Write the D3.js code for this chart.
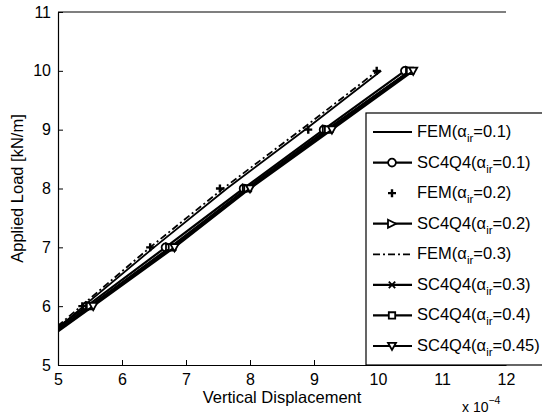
<!DOCTYPE html>
<html lang="en">
<head>
  <meta charset="UTF-8">
  <title>Applied Load vs Vertical Displacement</title>
  <style>
    body { margin: 0; background: #fff; }
    svg text { font-family: "Liberation Sans", Arial, sans-serif; fill: #000; }
  </style>
</head>
<body>
  <svg></svg>
<script src="https://cdn.jsdelivr.net/npm/d3@7/dist/d3.min.js"></script>
<script>
  var width = 542
  var height = 415

  // loads (kN/m) and displacements (x 1e-4)
  var loads = [5, 6, 7, 8, 9, 10]
  var fem01 = [4.32, 5.40, 6.50, 7.64, 8.86, 10.05]
  var fem02 = [4.30, 5.38, 6.44, 7.53, 8.91, 9.98]
  var fem03 = [4.28, 5.36, 6.44, 7.58, 8.80, 9.99]
  var sc01 = [4.18, 5.45, 6.68, 7.90, 9.15, 10.42]
  var sc02 = [4.22, 5.50, 6.75, 7.95, 9.20, 10.50]
  var sc03 = [4.25, 5.52, 6.80, 7.98, 9.25, 10.52]
  var sc04 = [4.23, 5.50, 6.78, 7.96, 9.22, 10.50]
  var sc045 = [4.27, 5.55, 6.82, 8.00, 9.28, 10.55]

  var xTicks = [5, 6, 7, 8, 9, 10, 11, 12]
  var yTicks = [5, 6, 7, 8, 9, 10, 11]

  var series = [
    {name: 'FEM', alpha: '0.1', x: fem01, line: 'solid', marker: null, w: 1.8},
    {name: 'SC4Q4', alpha: '0.1', x: sc01, line: 'solid', marker: 'circle', w: 2.2},
    {name: 'FEM', alpha: '0.2', x: fem02, line: null, marker: 'plus', w: 1.8},
    {name: 'SC4Q4', alpha: '0.2', x: sc02, line: 'solid', marker: 'tri-right', w: 2.2},
    {name: 'FEM', alpha: '0.3', x: fem03, line: 'dashdot', marker: null, w: 1.8},
    {name: 'SC4Q4', alpha: '0.3', x: sc03, line: 'solid', marker: 'cross', w: 2.2},
    {name: 'SC4Q4', alpha: '0.4', x: sc04, line: 'solid', marker: 'square', w: 2.2},
    {name: 'SC4Q4', alpha: '0.45', x: sc045, line: 'solid', marker: 'tri-down', w: 2.2}
  ]

  var m = {left: 58, top: 12, right: 506, bottom: 365}

  var x = d3.scaleLinear().domain([5, 12]).range([m.left, m.right])
  var y = d3.scaleLinear().domain([5, 11]).range([m.bottom, m.top])

  var svg = d3.select('svg')
    .attr('width', width)
    .attr('height', height)

  svg.append('defs').append('clipPath').attr('id', 'clip')
    .append('rect')
    .attr('x', m.left).attr('y', m.top)
    .attr('width', m.right - m.left).attr('height', m.bottom - m.top)

  function markerPath(type, s) {
    var h = s / 2
    if (type === 'circle') return d3.symbol(d3.symbolCircle, s * s * 0.75)()
    if (type === 'plus') return 'M' + -h + ',0H' + h + 'M0,' + -h + 'V' + h
    if (type === 'cross') return 'M' + -h * 0.8 + ',' + -h * 0.8 + 'L' + h * 0.8 + ',' + h * 0.8 +
      'M' + -h * 0.8 + ',' + h * 0.8 + 'L' + h * 0.8 + ',' + -h * 0.8
    if (type === 'square') return 'M' + -h * 0.8 + ',' + -h * 0.8 + 'h' + s * 0.8 + 'v' + s * 0.8 + 'h' + -s * 0.8 + 'Z'
    if (type === 'tri-right') return 'M' + -h + ',' + -h + 'L' + h + ',0L' + -h + ',' + h + 'Z'
    if (type === 'tri-down') return 'M' + -h + ',' + -h * 0.8 + 'L' + h + ',' + -h * 0.8 + 'L0,' + h + 'Z'
    return ''
  }

  function dashFor(line) {
    return line === 'dashdot' ? '7,3,2,3' : null
  }

  var plot = svg.append('g').attr('clip-path', 'url(#clip)')

  var lineGen = d3.line()
    .x(d => x(d[0]))
    .y(d => y(d[1]))

  series.forEach(s => {
    var pts = s.x.map((v, i) => [v, loads[i]])
    if (s.line) {
      plot.append('path')
        .attr('d', lineGen(pts))
        .attr('fill', 'none')
        .attr('stroke', '#000')
        .attr('stroke-width', s.w)
        .attr('stroke-dasharray', dashFor(s.line))
    }
    if (s.marker) {
      plot.selectAll(null)
        .data(pts)
        .enter()
        .append('path')
        .attr('transform', d => 'translate(' + x(d[0]) + ',' + y(d[1]) + ')')
        .attr('d', markerPath(s.marker, 8))
        .attr('fill', s.marker === 'plus' || s.marker === 'cross' ? 'none' : '#fff')
        .attr('stroke', '#000')
        .attr('stroke-width', s.marker === 'plus' ? 2.4 : 1.8)
    }
  })

  // axes
  var xAxis = d3.axisBottom(x).tickValues(xTicks).tickFormat(d3.format('d'))
    .tickSizeInner(-5).tickSizeOuter(0).tickPadding(9)
  var yAxis = d3.axisLeft(y).tickValues(yTicks).tickFormat(d3.format('d'))
    .tickSizeInner(-5).tickSizeOuter(0).tickPadding(7)

  var gx = svg.append('g').attr('transform', 'translate(0,' + m.bottom + ')').call(xAxis)
  var gy = svg.append('g').attr('transform', 'translate(' + m.left + ',0)').call(yAxis)

  ;[gx, gy].forEach(g => {
    g.select('.domain').attr('stroke', '#000').attr('stroke-width', 1.2)
    g.selectAll('.tick line').attr('stroke', '#000')
    g.selectAll('.tick text').attr('font-size', 16).attr('fill', '#000')
      .style('font-family', '"Liberation Sans", Arial, sans-serif')
  })

  // top border
  svg.append('line')
    .attr('x1', m.left).attr('x2', m.right)
    .attr('y1', m.top).attr('y2', m.top)
    .attr('stroke', '#000').attr('stroke-width', 1.2)

  svg.append('text')
    .attr('x', (m.left + m.right) / 2).attr('y', 403)
    .attr('text-anchor', 'middle').attr('font-size', 16.5)
    .text('Vertical Displacement')

  var exp = svg.append('text').attr('x', 462).attr('y', 412).attr('font-size', 14)
  exp.append('tspan').text('x 10')
  exp.append('tspan').attr('dy', -8).attr('font-size', 10.5).text('\u22124')

  svg.append('text')
    .attr('transform', 'translate(23,' + (m.top + m.bottom) / 2 + ') rotate(-90)')
    .attr('text-anchor', 'middle').attr('font-size', 16.5)
    .text('Applied Load [kN/m]')

  // legend
  var leg = svg.append('g')
  leg.append('rect')
    .attr('x', 366).attr('y', 113)
    .attr('width', 190).attr('height', m.bottom - 113)
    .attr('fill', '#fff').attr('stroke', '#000').attr('stroke-width', 1.2)

  var rowY = d3.scaleLinear().domain([0, 7]).range([132, 346])

  series.forEach((s, i) => {
    var ry = rowY(i)
    if (s.line) {
      leg.append('line')
        .attr('x1', 373).attr('x2', 412).attr('y1', ry).attr('y2', ry)
        .attr('stroke', '#000').attr('stroke-width', s.w)
        .attr('stroke-dasharray', dashFor(s.line))
    }
    if (s.marker) {
      leg.append('path')
        .attr('transform', 'translate(392,' + ry + ')')
        .attr('d', markerPath(s.marker, 8))
        .attr('fill', s.marker === 'plus' || s.marker === 'cross' ? 'none' : '#fff')
        .attr('stroke', '#000')
        .attr('stroke-width', s.marker === 'plus' ? 2.4 : 1.8)
    }
    var t = leg.append('text').attr('x', 417).attr('y', ry + 5).attr('font-size', 16.5)
    t.append('tspan').text(s.name + '(\u03b1')
    t.append('tspan').attr('dy', 5).attr('font-size', 11.5).text('ir')
    t.append('tspan').attr('dy', -5).text('=' + s.alpha + ')')
  })
</script>
</body>
</html>
